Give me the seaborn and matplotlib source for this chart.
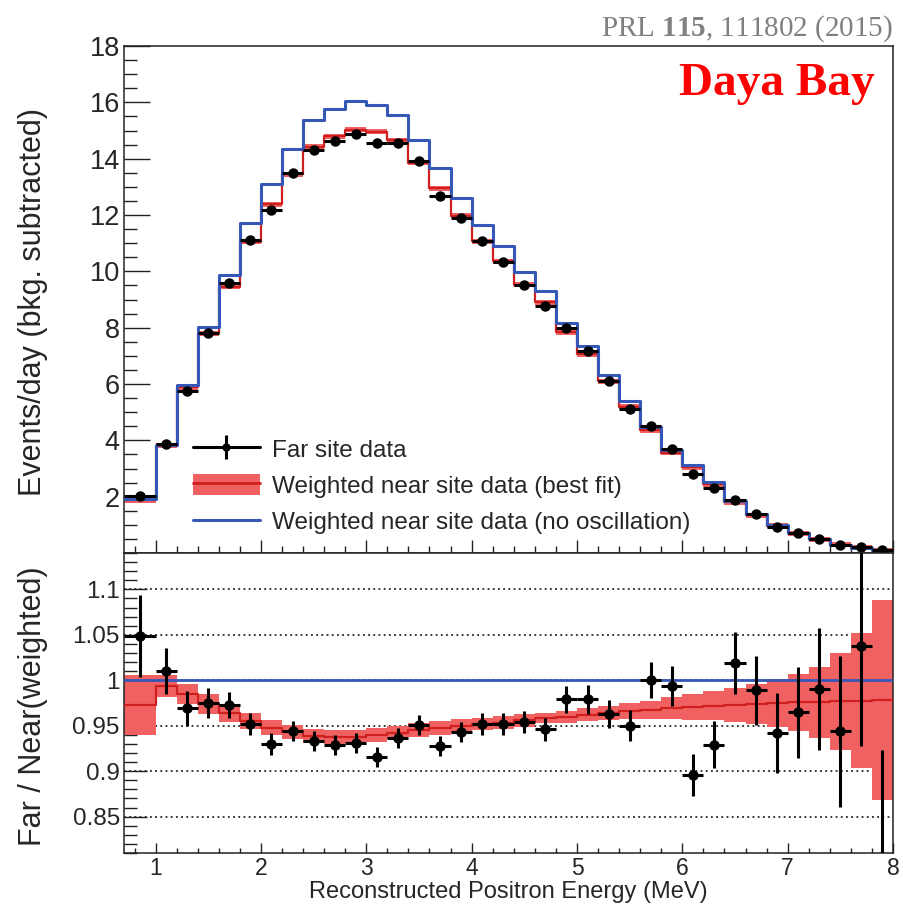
import numpy as np
import matplotlib
matplotlib.use("Agg")
import matplotlib.pyplot as plt
import seaborn as sns
from matplotlib.ticker import MultipleLocator, FixedLocator, FixedFormatter
from matplotlib.lines import Line2D
from matplotlib.patches import Patch
from matplotlib.legend_handler import HandlerTuple

# ---------------- data ----------------
bin_edges = [0.7, 1.0, 1.2, 1.4, 1.6, 1.8, 2.0, 2.2, 2.4, 2.6, 2.8, 3.0, 3.2, 3.4,
             3.6, 3.8, 4.0, 4.2, 4.4, 4.6, 4.8, 5.0, 5.2, 5.4, 5.6, 5.8, 6.0, 6.2,
             6.4, 6.6, 6.8, 7.0, 7.2, 7.4, 7.6, 7.8, 8.0]

far_site_data = [2.01, 3.87, 5.76, 7.81, 9.60, 11.10, 12.18, 13.50, 14.32, 14.63,
                 14.89, 14.56, 14.54, 13.91, 12.66, 11.90, 11.07, 10.33, 9.53, 8.78,
                 7.99, 7.16, 6.12, 5.12, 4.52, 3.69, 2.81, 2.30, 1.87, 1.38,
                 0.94, 0.71, 0.50, 0.29, 0.20, 0.09]

near_best_fit = [1.87, 3.81, 5.88, 7.80, 9.45, 11.05, 12.38, 13.45, 14.42, 14.79,
                 15.03, 14.96, 14.65, 13.85, 12.95, 11.97, 11.07, 10.36, 9.53, 8.90,
                 7.84, 7.06, 6.10, 5.20, 4.35, 3.56, 3.04, 2.45, 1.81, 1.34,
                 0.96, 0.70, 0.48, 0.29, 0.18, 0.09]

near_no_osc = [1.92, 3.83, 5.97, 8.01, 9.86, 11.72, 13.10, 14.35, 15.39, 15.78,
               16.03, 15.91, 15.54, 14.65, 13.67, 12.61, 11.66, 10.89, 9.98, 9.29,
               8.17, 7.34, 6.33, 5.38, 4.49, 3.67, 3.13, 2.52, 1.86, 1.38,
               0.99, 0.72, 0.49, 0.30, 0.18, 0.09]

ratio_data = [1.049, 1.010, 0.969, 0.975, 0.973, 0.952, 0.930, 0.944, 0.933, 0.929,
              0.931, 0.916, 0.936, 0.951, 0.928, 0.943, 0.952, 0.952, 0.954, 0.946,
              0.979, 0.979, 0.963, 0.950, 1.000, 0.994, 0.896, 0.929, 1.019, 0.989,
              0.942, 0.965, 0.990, 0.944, 1.038, 0.800]
ratio_err = [0.045, 0.025, 0.019, 0.016, 0.014, 0.012, 0.012, 0.011, 0.011, 0.011,
             0.011, 0.011, 0.011, 0.011, 0.011, 0.011, 0.012, 0.012, 0.012, 0.013,
             0.015, 0.016, 0.015, 0.017, 0.020, 0.022, 0.023, 0.026, 0.034, 0.038,
             0.044, 0.050, 0.067, 0.083, 0.110, 0.123]

ratio_fit = [0.973, 0.994, 0.985, 0.974, 0.964, 0.955, 0.948, 0.943, 0.939, 0.9375,
             0.938, 0.940, 0.9425, 0.9455, 0.9475, 0.950, 0.952, 0.9535, 0.956, 0.9585,
             0.960, 0.962, 0.964, 0.966, 0.9677, 0.9695, 0.9706, 0.972, 0.973, 0.974,
             0.975, 0.9757, 0.976, 0.9768, 0.9776, 0.978]
ratio_fit_err = [0.033, 0.012, 0.011, 0.011, 0.010, 0.009, 0.008, 0.008, 0.0075, 0.0075,
                 0.0075, 0.0075, 0.0075, 0.0075, 0.0075, 0.0075, 0.007, 0.007, 0.007, 0.006,
                 0.0065, 0.007, 0.008, 0.009, 0.010, 0.012, 0.014, 0.016, 0.019, 0.022,
                 0.026, 0.031, 0.039, 0.053, 0.074, 0.110]

upper_yticks = [2, 4, 6, 8, 10, 12, 14, 16, 18]
lower_yticks = [0.85, 0.9, 0.95, 1.0, 1.05, 1.1]
lower_yticklabels = ["0.85", "0.9", "0.95", "1", "1.05", "1.1"]
x_ticks = [1, 2, 3, 4, 5, 6, 7, 8]
x_ticklabels = ["1", "2", "3", "4", "5", "6", "7", "8"]

legend_labels = ["Far site data",
                 "Weighted near site data (best fit)",
                 "Weighted near site data (no oscillation)"]

# ---------------- style ----------------
BLUE = "#3557b7"
RED_BAND = "#f06262"
RED_LINE = "#cf1f1f"
UPPER_BAND_HALF = 0.09

sns.set_theme(style="ticks")
plt.rcParams["font.family"] = ["Liberation Sans", "DejaVu Sans"]
plt.rcParams["mathtext.fontset"] = "custom"
plt.rcParams["mathtext.rm"] = "Liberation Serif"
plt.rcParams["mathtext.bf"] = "Liberation Serif:bold"
plt.rcParams["axes.linewidth"] = 1.1
plt.rcParams["axes.edgecolor"] = "#222222"

edges = np.array(bin_edges)
centers = 0.5 * (edges[:-1] + edges[1:])
halfw = 0.5 * np.diff(edges)
far = np.array(far_site_data)
best = np.array(near_best_fit)
rfit = np.array(ratio_fit)
rfit_err = np.array(ratio_fit_err)

fig = plt.figure(figsize=(9.04, 9.07), dpi=100)
L, R = 124 / 904, 893 / 904
y_top, y_mid, y_bot = 1 - 46 / 907, 1 - 553 / 907, 1 - 853 / 907
ax1 = fig.add_axes([L, y_mid, R - L, y_top - y_mid])
ax2 = fig.add_axes([L, y_bot, R - L, y_mid - y_bot])

# ---------- upper panel ----------
ax1.stairs(best + UPPER_BAND_HALF, edges, baseline=best - UPPER_BAND_HALF,
           fill=True, color=RED_BAND, lw=0, zorder=2)
sns.histplot(x=list(centers), weights=near_best_fit, bins=bin_edges, element="step",
             fill=False, color=RED_LINE, linewidth=1.6, ax=ax1, zorder=3)
sns.histplot(x=list(centers), weights=near_no_osc, bins=bin_edges, element="step",
             fill=False, color=BLUE, linewidth=2.2, ax=ax1, zorder=4)
ax1.errorbar(centers, far, xerr=halfw, fmt="o", color="black", ms=6.5,
             elinewidth=2.2, capsize=0, zorder=6)

ax1.set_xlim(0.7, 8.0)
ax1.set_ylim(0, 18)
ax1.yaxis.set_major_locator(FixedLocator(upper_yticks))
ax1.yaxis.set_minor_locator(MultipleLocator(0.5))
ax1.xaxis.set_major_locator(FixedLocator(x_ticks))
ax1.xaxis.set_minor_locator(MultipleLocator(0.2))
ax1.tick_params(axis="x", which="both", labelbottom=False, direction="in",
                top=False, bottom=True, color="#222222")
ax1.tick_params(axis="x", which="major", length=9.5, width=1.0)
ax1.tick_params(axis="x", which="minor", length=5, width=1.0)
ax1.tick_params(axis="y", which="both", direction="in", left=True, right=False,
                color="#222222", labelsize=19.5, pad=3)
ax1.tick_params(axis="y", which="major", length=19, width=1.0)
ax1.tick_params(axis="y", which="minor", length=9.5, width=1.0)
ax1.set_xlabel("")
ax1.set_ylabel("Events/day (bkg. subtracted)", fontsize=22)
ax1.yaxis.set_label_coords(-0.099, 0.495)
for s in ax1.spines.values():
    s.set_visible(True)

h_far = (Line2D([], [], color="black", lw=2.2, marker="o", ms=5),
         Line2D([], [], color="black", ls="none", marker="|", ms=17, mew=2.2))
h_fit = (Patch(facecolor=RED_BAND, edgecolor="none"),
         Line2D([], [], color=RED_LINE, lw=2.0))
h_noosc = Line2D([], [], color=BLUE, lw=2.2)
ax1.legend(handles=[h_far, h_fit, h_noosc], labels=legend_labels,
           loc="lower left", bbox_to_anchor=(0.0897, 0.037), frameon=False,
           fontsize=17.5, handlelength=2.75, handleheight=1.0, handletextpad=0.5,
           labelspacing=0.5, borderpad=0, borderaxespad=0,
           handler_map={tuple: HandlerTuple(ndivide=1)})

# ---------- lower panel ----------
ax2.stairs(rfit + rfit_err, edges, baseline=rfit - rfit_err, fill=True,
           color=RED_BAND, lw=0, zorder=2)
sns.histplot(x=list(centers), weights=ratio_fit, bins=bin_edges, element="step",
             fill=False, color=RED_LINE, linewidth=1.6, ax=ax2, zorder=3)
ax2.axhline(1.0, color=BLUE, lw=2.0, zorder=4)
ax2.errorbar(centers, ratio_data, xerr=halfw, yerr=ratio_err, fmt="o",
             color="black", ms=6.5, elinewidth=2.2, capsize=0, zorder=6)

ax2.set_xlim(0.7, 8.0)
ax2.set_ylim(0.81, 1.14)
ax2.yaxis.set_major_locator(FixedLocator(lower_yticks))
ax2.yaxis.set_major_formatter(FixedFormatter(lower_yticklabels))
ax2.yaxis.set_minor_locator(MultipleLocator(0.01))
ax2.xaxis.set_major_locator(FixedLocator(x_ticks))
ax2.xaxis.set_major_formatter(FixedFormatter(x_ticklabels))
ax2.xaxis.set_minor_locator(MultipleLocator(0.2))
ax2.grid(axis="y", which="major", linestyle=(0, (1.2, 2.2)), color="black",
         lw=1.1, zorder=1)
ax2.tick_params(axis="x", which="both", direction="in", top=False, bottom=True,
                color="#222222", labelsize=16.5, pad=3)
ax2.tick_params(axis="x", which="major", length=7.5, width=1.0)
ax2.tick_params(axis="x", which="minor", length=3.8, width=1.0)
ax2.tick_params(axis="y", which="both", direction="in", left=True, right=False,
                color="#222222", labelsize=17.5, pad=3)
ax2.tick_params(axis="y", which="major", length=16.5, width=1.0)
ax2.tick_params(axis="y", which="minor", length=9.0, width=1.0)
ax2.set_ylabel("Far / Near(weighted)", fontsize=22)
ax2.yaxis.set_label_coords(-0.099, 0.49)
ax2.set_xlabel("Reconstructed Positron Energy (MeV)", fontsize=17)
ax2.xaxis.set_label_coords(0.5, -0.093)
for s in ax2.spines.values():
    s.set_visible(True)

# ---------- annotations ----------
fig.text(893 / 904, 1 - 36 / 907, r"PRL $\mathbf{115}$, 111802 (2015)",
         ha="right", va="baseline", fontsize=21, color="#808080",
         family=["Liberation Serif", "DejaVu Serif"])
fig.text(875 / 904, 1 - 95 / 907, "Daya Bay", ha="right", va="baseline",
         fontsize=34, color="#ff0000", fontweight="bold",
         family=["Liberation Serif", "DejaVu Serif"])

fig.savefig("out.png", dpi=100)
